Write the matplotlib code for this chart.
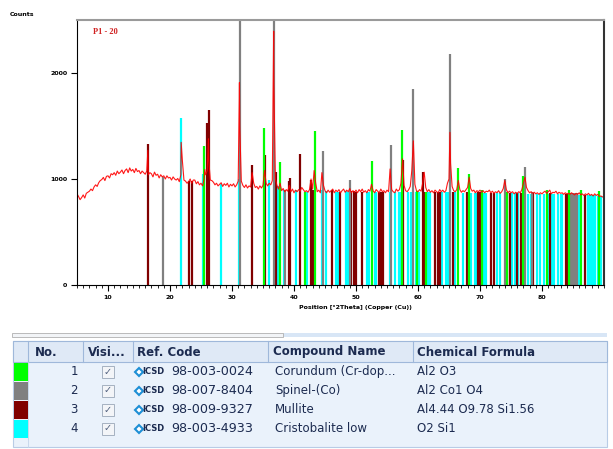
import matplotlib.pyplot as plt
from matplotlib.patches import Rectangle
from matplotlib.ticker import MultipleLocator

# measured pattern, 0.25 deg grid from 5.0 to 90.0
scan_start = 5.0
scan_step = 0.25
scan_counts = [
    860, 835, 805, 825, 850, 820, 865, 875, 885, 905, 890, 925, 945, 930, 965, 985, 995, 1015, 985, 1025,
    1030, 1010, 1050, 1040, 1060, 1035, 1075, 1050, 1065, 1085, 1050, 1080, 1095, 1060, 1105, 1075, 1090, 1060, 1100, 1070,
    1080, 1050, 1075, 1060, 1045, 1075, 1040, 1060, 1050, 1020, 1065, 1035, 1045, 1010, 1040, 1020, 1030, 1000, 1030, 1010,
    1015, 990, 1020, 1000, 990, 1005, 975, 1040, 1170, 990, 980, 960, 975, 1000, 960, 990, 990, 955, 975, 945,
    960, 935, 1000, 1040, 1080, 1180, 990, 985, 970, 945, 960, 935, 950, 965, 930, 955, 940, 960, 925, 950,
    935, 955, 925, 945, 980, 1500, 980, 940, 920, 945, 915, 935, 925, 1060, 960, 920, 930, 905, 935, 915,
    940, 1080, 960, 935, 960, 945, 985, 1900, 1000, 940, 905, 960, 890, 910, 880, 900, 885, 940, 880, 905,
    870, 895, 880, 900, 885, 920, 900, 880, 890, 875, 900, 1000, 905, 1080, 960, 880, 895, 870, 1060, 940,
    890, 870, 895, 875, 890, 905, 870, 895, 880, 900, 870, 890, 905, 875, 895, 880, 910, 870, 890, 875,
    895, 870, 900, 880, 905, 875, 890, 870, 900, 885, 950, 890, 870, 900, 885, 870, 905, 880, 890, 870,
    895, 880, 1095, 900, 880, 870, 905, 885, 900, 960, 1190, 940, 890, 880, 900, 930, 1080, 1360, 950, 890,
    880, 900, 885, 960, 1064, 920, 880, 900, 875, 890, 870, 895, 880, 870, 900, 880, 895, 875, 890, 960,
    1000, 1150, 930, 890, 880, 900, 986, 900, 875, 890, 880, 900, 920, 1017, 910, 885, 895, 870, 890, 880,
    895, 875, 890, 870, 885, 880, 895, 870, 885, 865, 880, 870, 890, 865, 880, 910, 986, 900, 870, 885,
    870, 880, 860, 875, 865, 880, 870, 900, 960, 1017, 920, 890, 870, 880, 865, 875, 860, 870, 855, 870,
    860, 875, 885, 865, 880, 895, 860, 875, 870, 885, 860, 875, 865, 870, 855, 870, 860, 865, 855, 870,
    860, 850, 865, 855, 870, 850, 860, 845, 860, 850, 865, 845, 855, 840, 860, 845, 855, 835, 840, 830,
    835,
]
# sharp peak tops that fall between grid points
apex_tt = [16.43, 21.8, 25.6, 26.2, 31.2, 36.72, 65.15]
apex_counts = [1270, 1346, 1090, 1380, 1910, 2394, 1440]

# reference sticks
corundum_tt = [25.53, 35.12, 37.7, 41.7, 43.31, 52.53, 57.49, 59.9, 61.3, 66.48, 68.26, 70.4, 74.3, 77.0,
               80.8, 84.4, 86.3, 89.2]
corundum_h = [1315, 1480, 1158, 880, 1449, 1167, 1465, 890, 880, 1105, 1049, 900, 880, 1030,
              900, 900, 900, 890]

spinel_tt = [18.85, 31.24, 36.74, 38.6, 44.72, 49.0, 55.6, 59.26, 65.19, 74.03, 77.26, 78.4, 84.7, 85.0,
             85.3, 85.6]
spinel_h = [1017, 2600, 2600, 900, 1268, 986, 1321, 1847, 2175, 1002, 1111, 880, 870, 870,
            870, 870]

mullite_tt = [16.43, 23.05, 23.6, 25.97, 26.29, 33.29, 35.28, 37.06, 39.2, 39.32, 40.94, 42.67, 43.1, 46.17,
              47.4, 49.2, 49.6, 49.95, 51.0, 53.7, 54.1, 54.3, 57.65, 60.88, 61.15, 62.8, 63.2, 63.5,
              65.6, 67.9, 69.7, 70.0, 71.7, 72.2, 74.4, 74.8, 76.0, 76.6, 78.5, 81.3, 83.9, 84.1,
              84.9, 85.3, 87.0]
mullite_h = [1330, 980, 980, 1533, 1650, 1136, 1230, 1064, 980, 1008, 1236, 990, 900, 892,
             880, 890, 885, 880, 880, 880, 880, 880, 1180, 1064, 880, 880, 880, 880,
             880, 880, 880, 880, 870, 870, 870, 870, 870, 870, 865, 865, 860, 860,
             860, 860, 850]

cristobalite_tt = [21.76, 25.3, 28.28, 31.08, 35.93, 37.44, 38.35, 40.4, 42.1, 44.55, 45.2, 46.7, 47.1, 48.32,
                   48.7, 51.8, 52.1, 53.0, 53.3, 55.5, 56.3, 56.9, 57.1, 58.4, 58.8, 59.6, 60.2, 61.6,
                   62.0, 63.9, 64.5, 64.9, 65.9, 67.2, 68.6, 69.2, 69.4, 70.6, 71.0, 72.8, 73.3, 75.2,
                   75.6, 76.2, 77.8, 78.2, 79.2, 79.6, 80.4, 80.9, 81.6, 82.0, 82.6, 83.0, 83.3, 86.0,
                   86.9, 87.4, 87.7, 88.0, 88.3, 88.5, 89.1, 89.5]
cristobalite_h = [1575, 1050, 955, 1000, 990, 930, 900, 900, 880, 900, 885, 880, 880, 885,
                  880, 880, 880, 880, 880, 880, 880, 880, 880, 880, 880, 880, 880, 880,
                  875, 875, 875, 875, 875, 870, 870, 870, 870, 870, 870, 865, 865, 865,
                  865, 865, 860, 860, 860, 860, 860, 860, 860, 855, 855, 855, 855, 850,
                  850, 850, 850, 845, 845, 845, 840, 840]

phase_colors = ['#00ff00', '#808080', '#800000', '#00ffff']
ref_codes = ['98-003-0024', '98-007-8404', '98-009-9327', '98-003-4933']
compound_names = ['Corundum (Cr-dop...', 'Spinel-(Co)', 'Mullite', 'Cristobalite low']
formulas = ['Al2 O3', 'Al2 Co1 O4', 'Al4.44 O9.78 Si1.56', 'O2 Si1']

scan_tt = [scan_start + i * scan_step for i in range(len(scan_counts))]
pts = sorted(zip(scan_tt + apex_tt, scan_counts + apex_counts))
tt = [p[0] for p in pts]
counts = [p[1] for p in pts]

fig = plt.figure(figsize=(6.13, 4.49), dpi=100)

# pixel-space overlay for labels and the phase table
tab = fig.add_axes([0, 0, 1, 1])
tab.set_xlim(0, 613)
tab.set_ylim(449, 0)
tab.axis('off')

ax = fig.add_axes([77 / 613, 1 - 285 / 449, 527 / 613, 265 / 449])
ax.vlines(cristobalite_tt, 0, cristobalite_h, colors=phase_colors[3], linewidth=1.6)
ax.vlines(mullite_tt, 0, mullite_h, colors=phase_colors[2], linewidth=1.6)
ax.vlines(spinel_tt, 0, spinel_h, colors=phase_colors[1], linewidth=1.6)
ax.vlines(corundum_tt, 0, corundum_h, colors=phase_colors[0], linewidth=1.6)
ax.plot(tt, counts, color='#ff0000', linewidth=0.8, alpha=0.9)

ax.set_xlim(5, 90)
ax.set_ylim(0, 2500)
ax.set_xticks(range(10, 90, 10))
ax.xaxis.set_minor_locator(MultipleLocator(1))
ax.set_yticks([0, 1000, 2000])
ax.tick_params(which='major', direction='out', length=4, width=0.8, labelsize=4.5, pad=3)
ax.tick_params(which='minor', direction='out', length=2.5, width=0.6)
for lab in ax.get_xticklabels() + ax.get_yticklabels():
    lab.set_fontweight('bold')
ax.spines['top'].set_color('#9a9a9a')
ax.spines['top'].set_linewidth(1.5)
ax.spines['right'].set_color('#333333')
ax.spines['right'].set_linewidth(1.5)
ax.text(0.03, 0.955, 'P1 - 20', transform=ax.transAxes, color='#d02020', fontsize=6,
        family='Liberation Serif', fontweight='bold', va='center')

tab.text(355, 308, 'Position [°2Theta] (Copper (Cu))', fontsize=4.5, fontweight='bold',
         va='center', ha='center')
tab.text(10, 15, 'Counts', fontsize=4.5, fontweight='bold', va='center')

# scroll bar
tab.add_patch(Rectangle((283, 333), 324, 4, fc='#d8e6f6', ec='none'))
tab.add_patch(Rectangle((12, 333), 271, 4, fc='#f2f4f7', ec='#b0b0b0', lw=0.6))

# phase table
navy = '#1c2b50'
tab.add_patch(Rectangle((13, 341), 594, 106, fc='#eaf2fb', ec='#b8cce6', lw=0.8))
tab.add_patch(Rectangle((13, 341), 594, 21, fc='#dfe9f6', ec='#9fb8da', lw=0.8))
for xc in [28, 83, 133, 268, 413]:
    tab.plot([xc, xc], [341, 362], color='#9fb8da', lw=0.8)
tab.plot([28, 28], [362, 447], color='#c4d5ea', lw=0.6)
heads = [(35, 'No.'), (88, 'Visi...'), (137, 'Ref. Code'), (273, 'Compound Name'), (417, 'Chemical Formula')]
for xh, txt in heads:
    tab.text(xh, 352, txt, fontsize=8.5, fontweight='bold', color=navy, va='center')

for i in range(4):
    y0 = 362 + i * 19
    yc = y0 + 9.5
    tab.add_patch(Rectangle((14, y0 + 0.5), 13.5, 18, fc=phase_colors[i], ec='none'))
    tab.text(78, yc, str(i + 1), fontsize=8.5, color=navy, va='center', ha='right')
    tab.add_patch(Rectangle((102, yc - 6), 12, 12, fc='#f3f5f8', ec='#9aa7b8', lw=0.6))
    tab.text(108, yc, '\u2713', fontsize=7, color='#4f5f7d', va='center', ha='center')
    tab.plot(138.5, yc, marker='D', ms=4, mfc='white', mec='#1e8fd5', mew=1.5)
    tab.text(142.5, yc, 'ICSD', fontsize=6, fontweight='bold', color=navy, va='center')
    tab.text(171, yc, ref_codes[i], fontsize=9.2, color=navy, va='center')
    tab.text(275, yc, compound_names[i], fontsize=8.5, color=navy, va='center')
    tab.text(417, yc, formulas[i], fontsize=8.5, color=navy, va='center')

fig.savefig('out.png', dpi=100)
